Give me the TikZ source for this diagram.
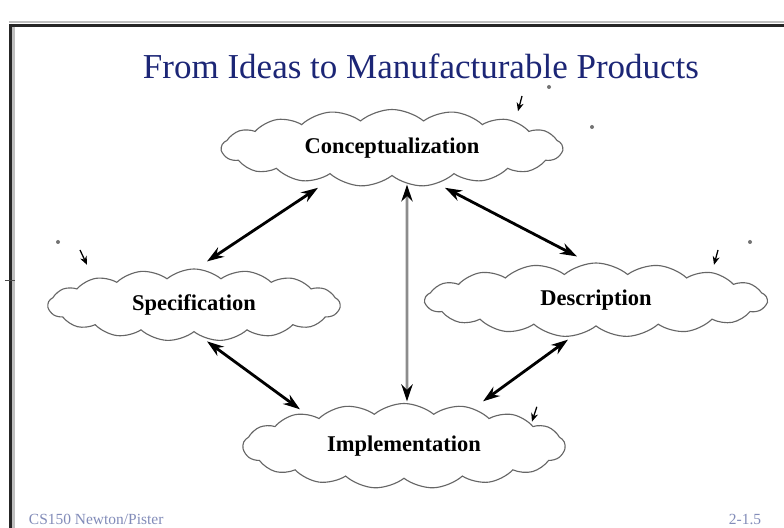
\documentclass[tikz,border=0pt]{standalone}
\usepackage{fontspec}
\setmainfont{Liberation Serif}
\usepackage{xcolor}
\usepackage{tikz}
\usetikzlibrary{shapes,shapes.symbols,positioning,arrows.meta}

\definecolor{titleblue}{RGB}{28,38,118}
\definecolor{footgray}{RGB}{130,140,185}

\begin{document}
\begin{tikzpicture}[
    stage/.style={
        cloud,
        cloud puffs=17,
        cloud puff arc=80,
        cloud ignores aspect,
        draw=black!60,
        line width=0.8pt,
        fill=white,
        inner sep=0pt,
        font=\fontsize{16}{18}\selectfont\bfseries
    },
    link/.style={{Stealth[length=12pt,width=8pt]}-{Stealth[length=12pt,width=8pt]}, line width=2pt},
    tickmark/.style={-{Stealth[length=6pt,width=5pt]}, line width=0.9pt},
    speck/.style={fill=black!55},
    border/.style={line width=2.1pt}
]
    % Page and slide frame
    \useasboundingbox (0,0) rectangle (19.6,13.2);
    \fill[white] (0,0) rectangle (19.6,13.2);
    \draw[border, gray!50] (0.22,12.65) -- (19.6,12.65);
    \draw[border, black!85] (0.225,12.5625) -- (19.6,12.5625);
    \draw[border, black!85] (0.2625,12.6) -- (0.2625,0);
    \draw[border, gray!50] (0.3375,12.53) -- (0.3375,0);

    % Title
    \node[font=\fontsize{24.9}{28}\selectfont, text=titleblue] (title) at (10.525,11.55) {From Ideas to Manufacturable Products};

    % Design stages
    \node[stage, minimum width=8.525cm, minimum height=1.925cm] (concept) at (9.8,9.5) {Conceptualization};
    \node[stage, minimum width=7.3cm, minimum height=1.8cm] (spec) at (4.85,5.575) {Specification};
    \node[stage, minimum width=8.55cm, minimum height=1.85cm] (desc) at (14.9,5.7) {Description};
    \node[stage, minimum width=8.05cm, minimum height=2.125cm] (impl) at (10.1,2.05) {Implementation};

    % Two-way links between stages
    \draw[link] ([shift={(-1.85,-0.29)}]concept.south) -- ([shift={(0.325,0.175)}]spec.north);
    \draw[link] ([shift={(1.325,-0.29)}]concept.south) -- ([shift={(-0.475,0.15)}]desc.north);
    \draw[link, gray!90, {Stealth[length=12pt,width=8pt,color=black]}-{Stealth[length=12pt,width=8pt,color=black]}]
        ([shift={(0.375,-0.21)}]concept.south) -- ([shift={(0.075,0.04)}]impl.north);
    \draw[link] ([shift={(0.325,-0.225)}]spec.south) -- ([shift={(-2.6,-0.16)}]impl.north);
    \draw[link] ([shift={(-0.7,-0.325)}]desc.south) -- ([shift={(1.975,0.04)}]impl.north);

    % Small pen ticks on the clouds
    \draw[tickmark] (13.05,10.8) -- (12.95,10.42);
    \draw[tickmark] (2.0,6.95) -- (2.175,6.58);
    \draw[tickmark] (17.95,6.95) -- (17.85,6.58);
    \draw[tickmark] (13.42,3.03) -- (13.3,2.66);

    % Stray specks
    \fill[speck] (13.725,11.025) circle (0.05);
    \fill[speck] (14.8,10.025) circle (0.05);
    \fill[speck] (18.75,7.15) circle (0.05);
    \fill[speck] (1.45,7.15) circle (0.05);
    \draw[black!70, line width=0.6pt] (0.12,6.2) -- (0.38,6.2);

    % Footer
    \node[anchor=west, font=\fontsize{11}{12}\selectfont, text=footgray] (foot) at (0.6,0.22) {CS150 Newton/Pister};
    \node[font=\fontsize{11}{12}\selectfont, text=footgray] (page) at (18.625,0.22) {2-1.5};
\end{tikzpicture}
\end{document}
